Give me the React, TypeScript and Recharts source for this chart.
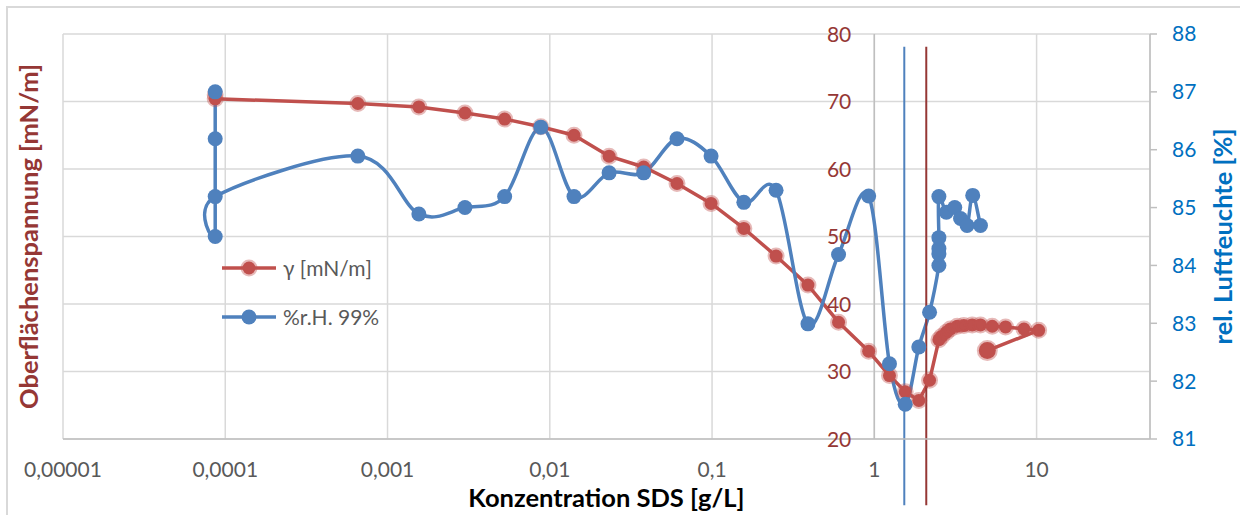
import {
  ComposedChart,
  Line,
  XAxis,
  YAxis,
  CartesianGrid,
  ReferenceLine,
  Legend,
  Label,
} from "recharts";

// Konzentration SDS [g/L] (log axis) with German tick labels
const X_TICKS = [0.00001, 0.0001, 0.001, 0.01, 0.1, 1, 10];
const X_TICK_LABELS = ["0,00001", "0,0001", "0,001", "0,01", "0,1", "1", "10"];
const GAMMA_TICKS = [20, 30, 40, 50, 60, 70, 80];
const RH_TICKS = [81, 82, 83, 84, 85, 86, 87, 88];

// surface tension γ [mN/m]
const gammaConc = [
  0.0000867, 0.0000867, 0.000656, 0.00156, 0.003, 0.00527, 0.0088, 0.0141,
  0.0232, 0.0379, 0.0608, 0.0986, 0.157, 0.248, 0.39, 0.602, 0.923, 1.24,
  1.55, 1.88, 2.19, 2.5, 2.6, 2.78, 2.94, 3.24, 3.56, 4.01, 4.51, 5.33, 6.44,
  8.36, 10.3, 4.97,
];
const gammaValues = [
  71.0, 70.4, 69.7, 69.2, 68.3, 67.4, 66.25, 65.0, 61.9, 60.3, 57.85, 54.9,
  51.2, 47.1, 42.8, 37.3, 33.0, 29.4, 27.0, 25.7, 28.7, 34.7, 35.2, 35.8, 36.3,
  36.7, 36.8, 36.9, 36.9, 36.7, 36.6, 36.3, 36.1, 33.1,
];

// relative humidity %r.H. 99%
const rhConc = [
  0.0000867, 0.0000867, 0.0000867, 0.0000867, 0.000656, 0.00156, 0.003,
  0.00527, 0.0088, 0.0141, 0.0232, 0.0379, 0.0608, 0.0986, 0.157, 0.248, 0.39,
  0.602, 0.923, 1.24, 1.55, 1.88, 2.19, 2.5, 2.5, 2.5, 2.5, 2.5, 2.78, 3.13,
  3.4, 3.73, 4.04, 4.51,
];
const rhValues = [
  87.0, 86.19, 84.5, 85.19, 85.89, 84.89, 85.0, 85.19, 86.39, 85.19, 85.6,
  85.6, 86.19, 85.89, 85.09, 85.3, 82.99, 84.19, 85.2, 82.3, 81.6, 82.59,
  83.19, 84.0, 84.2, 84.29, 84.48, 85.19, 84.92, 85.0, 84.81, 84.69, 85.21,
  84.69,
];

// CMC markers
const CMC_RH = 1.53;
const CMC_GAMMA = 2.09;
const CMC_SPAN: [number, number] = [78.1, 10.2];

const gammaData = gammaConc.map((x, i) => ({ x, y: gammaValues[i] }));
const rhData = rhConc.map((x, i) => ({ x, y: rhValues[i] }));

const WIDTH = 1240;
const HEIGHT = 515;
const PLOT_LEFT = 63;
const PLOT_RIGHT = 1150;
const PLOT_TOP = 34;
const PLOT_BOTTOM = 439;
const X_MIN = 0.00001;
const X_MAX = 50;

const RED = "#C0504D";
const BLUE = "#4F81BD";
const RED_TEXT = "#953735";
const BLUE_TEXT = "#0070C0";
const GREY_TEXT = "#595959";
const FONT = "Lato, 'Open Sans', sans-serif";

// pixel x where the primary axis crosses (x = 1)
const crossX =
  PLOT_LEFT +
  ((Math.log10(1) - Math.log10(X_MIN)) /
    (Math.log10(X_MAX) - Math.log10(X_MIN))) *
    (PLOT_RIGHT - PLOT_LEFT);

// Excel-like smoothed line (cardinal spline through every point)
function smoothCurve(context: any) {
  let pts: [number, number][] = [];
  return {
    areaStart() {},
    areaEnd() {},
    lineStart() {
      pts = [];
    },
    point(x: number, y: number) {
      pts.push([+x, +y]);
    },
    lineEnd() {
      const n = pts.length;
      if (!n) return;
      context.moveTo(pts[0][0], pts[0][1]);
      for (let i = 0; i < n - 1; i++) {
        const p0 = pts[i - 1] || pts[i];
        const p1 = pts[i];
        const p2 = pts[i + 1];
        const p3 = pts[i + 2] || p2;
        context.bezierCurveTo(
          p1[0] + (p2[0] - p0[0]) / 6,
          p1[1] + (p2[1] - p0[1]) / 6,
          p2[0] - (p3[0] - p1[0]) / 6,
          p2[1] - (p3[1] - p1[1]) / 6,
          p2[0],
          p2[1]
        );
      }
    },
  };
}

const gammaDot = (p: any) => (
  <circle
    key={`g-${p.index}`}
    cx={p.cx}
    cy={p.cy}
    r={p.index === gammaData.length - 1 ? 8.5 : 6.5}
    fill={RED}
    stroke="rgba(192,80,77,0.4)"
    strokeWidth={4}
  />
);

const rhDot = (p: any) => (
  <circle key={`h-${p.index}`} cx={p.cx} cy={p.cy} r={7.5} fill={BLUE} />
);

const GammaTick = (props: any) => (
  <text
    x={crossX - 23}
    y={props.y}
    dy="0.36em"
    textAnchor="end"
    fill={RED_TEXT}
    fontSize={21}
    fontFamily={FONT}
  >
    {props.payload.value}
  </text>
);

const axisTitle =
  (text: string, cx: number, cy: number, angle: number, color: string) =>
  () => (
    <text
      x={cx}
      y={cy}
      transform={`rotate(${angle}, ${cx}, ${cy})`}
      textAnchor="middle"
      dominantBaseline="central"
      fill={color}
      fontSize={25.5}
      fontWeight={700}
      fontFamily={FONT}
    >
      {text}
    </text>
  );

const legendItems = [
  { name: "γ [mN/m]", color: RED, halo: true },
  { name: "%r.H. 99%", color: BLUE, halo: false },
];

const renderLegend = () => (
  <div style={{ fontFamily: FONT, fontSize: 21, color: GREY_TEXT }}>
    {legendItems.map((item) => (
      <div
        key={item.name}
        style={{ display: "flex", alignItems: "center", height: 49 }}
      >
        <svg width={56} height={22} style={{ marginRight: 5 }}>
          <line x1={0} y1={11} x2={54} y2={11} stroke={item.color} strokeWidth={3.5} />
          <circle
            cx={27}
            cy={11}
            r={item.halo ? 6.5 : 7.5}
            fill={item.color}
            stroke={item.halo ? "rgba(192,80,77,0.4)" : "none"}
            strokeWidth={4}
          />
        </svg>
        <span>{item.name}</span>
      </div>
    ))}
  </div>
);

export default function App() {
  return (
    <div
      style={{
        position: "absolute",
        left: 0,
        top: 0,
        width: WIDTH,
        height: HEIGHT,
        overflow: "hidden",
        background: "#fff",
      }}
    >
      <div
        style={{
          position: "absolute",
          left: 6,
          top: 6,
          width: WIDTH + 40,
          height: HEIGHT + 40,
          border: "2px solid #d9d9d9",
        }}
      />
      <div style={{ position: "absolute", left: 0, top: 0 }}>
        <ComposedChart
          width={WIDTH}
          height={HEIGHT}
          margin={{ top: PLOT_TOP, right: 0, bottom: 0, left: 0 }}
        >
          <CartesianGrid
            yAxisId="left"
            stroke="#d9d9d9"
            strokeWidth={1.5}
          />
          <XAxis
            dataKey="x"
            type="number"
            scale="log"
            domain={[X_MIN, X_MAX]}
            ticks={X_TICKS}
            allowDataOverflow
            height={HEIGHT - PLOT_BOTTOM}
            tickFormatter={(v: number) => X_TICK_LABELS[X_TICKS.indexOf(v)] ?? String(v)}
            tickLine={false}
            tickSize={0}
            tickMargin={23}
            axisLine={{ stroke: "#bfbfbf", strokeWidth: 1.5 }}
            tick={{ fill: GREY_TEXT, fontSize: 21, fontFamily: FONT }}
          >
            <Label
              content={axisTitle(
                "Konzentration SDS [g/L]",
                (PLOT_LEFT + PLOT_RIGHT) / 2,
                497,
                0,
                "#000"
              )}
            />
          </XAxis>
          <YAxis
            yAxisId="left"
            orientation="left"
            width={PLOT_LEFT}
            domain={[20, 80]}
            ticks={GAMMA_TICKS}
            axisLine={false}
            tickLine={false}
            tick={<GammaTick />}
          >
            <Label
              content={axisTitle(
                "Oberflächenspannung [mN/m]",
                28,
                (PLOT_TOP + PLOT_BOTTOM) / 2,
                -90,
                RED_TEXT
              )}
            />
          </YAxis>
          <YAxis
            yAxisId="right"
            orientation="right"
            width={WIDTH - PLOT_RIGHT}
            domain={[81, 88]}
            ticks={RH_TICKS}
            tickSize={7}
            tickMargin={15}
            axisLine={{ stroke: "#bfbfbf", strokeWidth: 1.5 }}
            tickLine={{ stroke: "#bfbfbf", strokeWidth: 1.5 }}
            tick={{ fill: BLUE_TEXT, fontSize: 21, fontFamily: FONT }}
          >
            <Label
              content={axisTitle(
                "rel. Luftfeuchte [%]",
                1222,
                (PLOT_TOP + PLOT_BOTTOM) / 2,
                -90,
                BLUE_TEXT
              )}
            />
          </YAxis>
          <ReferenceLine
            yAxisId="left"
            x={1}
            stroke="#bfbfbf"
            strokeWidth={1.5}
          />
          <Line
            yAxisId="left"
            data={gammaData}
            dataKey="y"
            name="γ [mN/m]"
            type="linear"
            stroke={RED}
            strokeWidth={3.5}
            dot={gammaDot}
            activeDot={false}
            isAnimationActive={false}
          />
          <Line
            yAxisId="right"
            data={rhData}
            dataKey="y"
            name="%r.H. 99%"
            type={smoothCurve as any}
            stroke={BLUE}
            strokeWidth={3.5}
            dot={rhDot}
            activeDot={false}
            isAnimationActive={false}
          />
          <ReferenceLine
            yAxisId="left"
            ifOverflow="visible"
            segment={[
              { x: CMC_RH, y: CMC_SPAN[0] },
              { x: CMC_RH, y: CMC_SPAN[1] },
            ]}
            stroke={BLUE}
            strokeWidth={2}
          />
          <ReferenceLine
            yAxisId="left"
            ifOverflow="visible"
            segment={[
              { x: CMC_GAMMA, y: CMC_SPAN[0] },
              { x: CMC_GAMMA, y: CMC_SPAN[1] },
            ]}
            stroke={RED_TEXT}
            strokeWidth={2}
          />
          <Legend
            layout="vertical"
            align="center"
            verticalAlign="middle"
            content={renderLegend}
            wrapperStyle={{ left: 222, top: 243, width: 200 }}
          />
        </ComposedChart>
      </div>
    </div>
  );
}
